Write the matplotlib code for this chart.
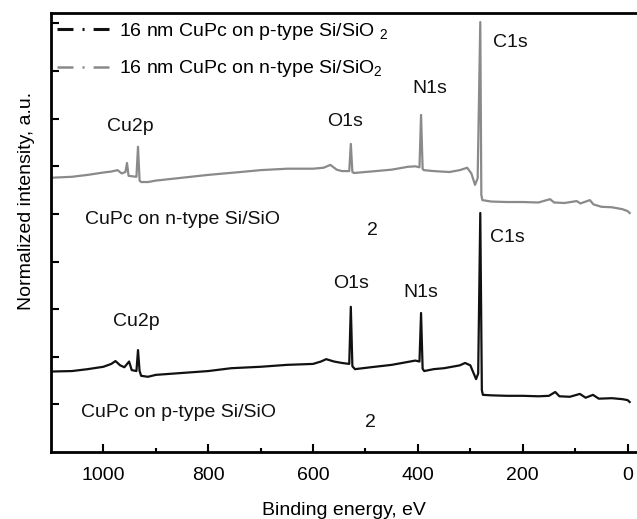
import numpy as np
import matplotlib
matplotlib.use("Agg")
import matplotlib.pyplot as plt
from matplotlib.lines import Line2D

plt.rcParams["font.family"] = ["Liberation Sans", "DejaVu Sans"]
plt.rcParams["mathtext.fontset"] = "custom"
plt.rcParams["mathtext.rm"] = "Liberation Sans"
plt.rcParams["mathtext.it"] = "Liberation Sans:italic"
plt.rcParams["lines.scale_dashes"] = False

# Binding energy [eV] and normalized intensity.
energy_p = [1100, 1060, 1030, 1000, 985, 977, 968, 960, 951, 946, 937, 934,
            931, 928, 915, 900, 850, 800, 756, 700, 650, 600, 585, 575, 560,
            545, 531, 528, 525, 520, 490, 450, 420, 405, 397, 394, 391, 388,
            370, 350, 320, 310, 300, 289, 285, 281, 278, 276, 260, 230, 200,
            170, 150, 138, 130, 110, 91, 80, 66, 55, 30, 10, 0, -4]
inten_p = [1.69, 1.70, 1.74, 1.79, 1.85, 1.91, 1.82, 1.78, 1.90, 1.72, 1.70,
           2.14, 1.70, 1.60, 1.58, 1.62, 1.66, 1.70, 1.76, 1.79, 1.83, 1.85,
           1.90, 1.95, 1.90, 1.87, 1.85, 3.05, 1.80, 1.74, 1.78, 1.83, 1.89,
           1.92, 1.90, 2.92, 1.75, 1.70, 1.74, 1.76, 1.82, 1.87, 1.82, 1.53,
           1.65, 5.02, 1.30, 1.20, 1.19, 1.18, 1.18, 1.17, 1.18, 1.26, 1.17,
           1.16, 1.22, 1.14, 1.20, 1.12, 1.13, 1.11, 1.09, 1.05]

energy_n = [1100, 1060, 1030, 1000, 985, 973, 965, 958, 955, 952, 937, 934,
            931, 928, 915, 900, 850, 800, 739, 700, 649, 600, 580, 567, 555,
            545, 531, 528, 525, 522, 480, 450, 419, 405, 397, 394, 391, 389,
            370, 340, 320, 306, 298, 291, 286, 281, 279, 277, 260, 230, 200,
            170, 148, 140, 120, 97, 90, 72, 65, 50, 30, 10, 0, -4]
inten_n = [5.76, 5.78, 5.82, 5.87, 5.89, 5.92, 5.85, 5.88, 6.07, 5.80, 5.78,
           6.41, 5.70, 5.67, 5.67, 5.70, 5.76, 5.82, 5.88, 5.92, 5.95, 5.95,
           5.97, 6.03, 5.93, 5.90, 5.90, 6.47, 5.88, 5.86, 5.90, 5.93, 5.99,
           6.00, 5.98, 7.08, 5.95, 5.92, 5.90, 5.88, 5.92, 5.97, 5.85, 5.61,
           5.75, 9.03, 5.40, 5.29, 5.26, 5.25, 5.25, 5.24, 5.31, 5.24, 5.23,
           5.27, 5.22, 5.29, 5.20, 5.15, 5.14, 5.10, 5.06, 5.02]

legend_labels = ["16 nm CuPc on p-type Si/SiO $_2$",
                 "16 nm CuPc on n-type Si/SiO$_2$"]

# Peak and sample labels: (text, energy, intensity, horizontal alignment)
annotations = [
    ("C1s", 257, 8.59, "left"),
    ("N1s", 411, 7.63, "left"),
    ("O1s", 573, 6.95, "left"),
    ("Cu2p", 993, 6.83, "left"),
    ("CuPc on n-type Si/SiO", 1035, 4.89, "left"),
    ("2", 487, 4.66, "center"),
    ("C1s", 262, 4.50, "left"),
    ("O1s", 562, 3.53, "left"),
    ("N1s", 428, 3.36, "left"),
    ("Cu2p", 981, 2.75, "left"),
    ("CuPc on p-type Si/SiO", 1042, 0.82, "left"),
    ("2", 491, 0.61, "center"),
]

BLACK = "#111111"
GRAY = "#8a8a8a"
FS = 14

fig = plt.figure(figsize=(6.37, 5.19), dpi=100)
ax = fig.add_axes([51 / 637, 67 / 519, 586 / 637, 439 / 519])

ax.plot(energy_p, inten_p, color=BLACK, lw=1.6)
ax.plot(energy_n, inten_n, color=GRAY, lw=1.6)

for txt, e, y, ha in annotations:
    ax.text(e, y, txt, ha=ha, va="center", fontsize=FS, color=BLACK)

dash = (0, (11.5, 6.5, 1.5, 6.5))
handles = [Line2D([], [], color=BLACK, lw=2.2, linestyle=dash),
           Line2D([], [], color=GRAY, lw=1.8, linestyle=dash)]
ax.legend(handles, legend_labels, loc="upper left", bbox_to_anchor=(0.01, 0.982),
          frameon=False, fontsize=FS, handlelength=2.7, handletextpad=0.5,
          labelspacing=0.85, borderpad=0, borderaxespad=0)

ax.set_xlim(1100, -18)
ax.set_ylim(0, 9.22)
ax.set_xticks([1000, 800, 600, 400, 200, 0])
ax.set_xticks([900, 700, 500, 300, 100], minor=True)
ax.set_yticks(np.arange(1, 10))
ax.set_yticklabels([])

for s in ("left", "bottom", "top"):
    ax.spines[s].set_linewidth(2.0)
ax.spines["right"].set_visible(False)
ax.tick_params(axis="both", which="major", direction="in", length=6, width=1.5,
               labelsize=FS, pad=11)
ax.tick_params(axis="x", which="minor", direction="in", length=3, width=1.5)
ax.tick_params(axis="y", which="major", left=True, right=False)

ax.set_xlabel("Binding energy, eV", fontsize=FS, labelpad=13)
ax.set_ylabel("Normalized intensity, a.u.", fontsize=FS)
ax.yaxis.set_label_coords(-0.028, 0.572)

fig.savefig("out.png", dpi=100)
